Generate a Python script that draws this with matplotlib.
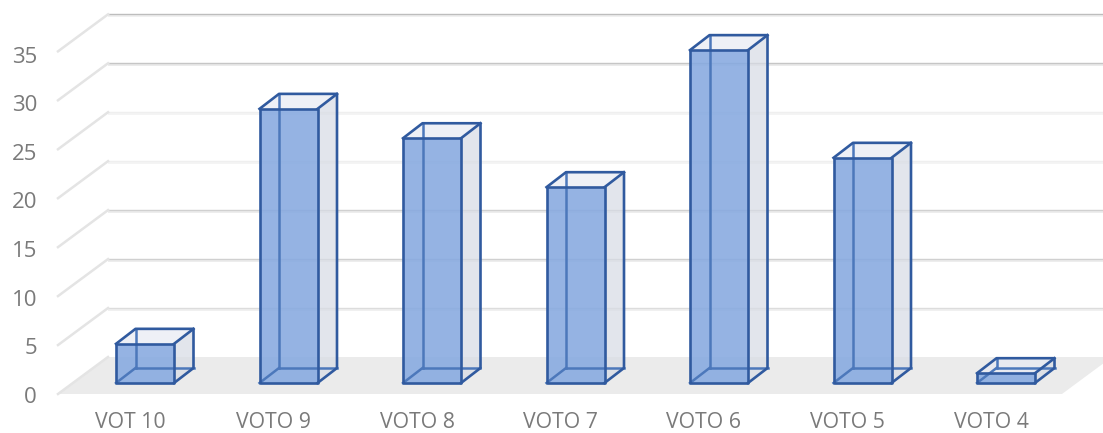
import matplotlib
matplotlib.use('Agg')
import matplotlib.pyplot as plt
import numpy as np
from matplotlib.patches import Polygon

plt.rcParams['font.family'] = ['Open Sans', 'DejaVu Sans']

# Data
categories = ['VOT 10', 'VOTO 9', 'VOTO 8', 'VOTO 7', 'VOTO 6', 'VOTO 5', 'VOTO 4']
votes = [4, 28, 25, 20, 34, 23, 1]
y_ticks = [0, 5, 10, 15, 20, 25, 30, 35]

# Look of the fake 3d chart
W, H = 1103, 433
x_unit = 143.5      # px per category
y_unit = 9.79       # px per vote
x_zero = 145.0      # px of the first bar centre
y_zero = 383.0      # px of value 0 on bar front
bar_w = 58 / x_unit
dep_x = 19.5 / x_unit
dep_y = 15.0 / y_unit
floor_front = -11 / y_unit
floor_back = 26 / y_unit
wall_dx = 50 / x_unit
left = (58 - x_zero) / x_unit
right = (1062 - x_zero) / x_unit
wall_end = (W - x_zero) / x_unit

edge = '#305a9f'
inner = '#4c78bb'
text_col = '#7a7a7a'
# the gridlines come out uneven in the original: (main line, shadow line)
grid_cols = {5: ('#dcdcdc', '#ececec'), 10: ('#d0d0d0', '#e8e8e8'), 15: ('#d0d0d0', '#e8e8e8'),
             20: ('#efefef', '#f1f1f1'), 25: ('#efefef', '#f1f1f1'), 30: ('#c6c6c6', '#e6e6e6'),
             35: ('#bdbdbd', '#ececec')}

fig = plt.figure(figsize=(W / 100, H / 100), dpi=100)
ax = fig.add_axes([0, 0, 1, 1])
ax.set_xlim(-x_zero / x_unit, (W - x_zero) / x_unit)
ax.set_ylim((y_zero - H) / y_unit, y_zero / y_unit)
ax.axis('off')

# Floor
ax.add_patch(Polygon([(left, floor_front), (right, floor_front),
                      (right + wall_dx, floor_back), (left + wall_dx, floor_back)],
                     fc='#ebebeb', ec='none', zorder=1))

# Gridlines, back wall and left wall
for t in y_ticks:
    yb = t + floor_back
    yf = t + floor_front
    if t > 0:
        main, shadow = grid_cols[t]
        ax.plot([left + wall_dx, wall_end], [yb, yb], color=main, lw=1.0, zorder=1.5,
                solid_capstyle='butt')
        ax.plot([left + wall_dx, wall_end], [yb - 0.15, yb - 0.15], color=shadow, lw=1.1, zorder=1.4,
                solid_capstyle='butt')
    ax.plot([left, left + wall_dx], [yf, yb], color='#e4e4e4', lw=1.8, zorder=1.5)
    # tick labels run on a slightly tighter step than the bars
    ax.text(37 / x_unit - x_zero / x_unit, t * 0.992 + floor_front - 0.33, str(t), ha='right', va='center',
            fontsize=16, color=text_col)

# Bars
for i, (name, v) in enumerate(zip(categories, votes)):
    x0 = i - 29 / x_unit
    x1 = x0 + bar_w
    # faces see-through so the floor and grid shine through
    side = [(x1, 0), (x1 + dep_x, dep_y), (x1 + dep_x, v + dep_y), (x1, v)]
    top = [(x0, v), (x1, v), (x1 + dep_x, v + dep_y), (x0 + dep_x, v + dep_y)]
    front = [(x0, 0), (x1, 0), (x1, v), (x0, v)]
    ax.add_patch(Polygon(side, fc='#d8dce5', alpha=0.72, ec='none', zorder=2))
    ax.add_patch(Polygon(top, fc='#e8eaf3', alpha=0.7, ec='none', zorder=2))
    ax.add_patch(Polygon(front, fc='#86a9e0', alpha=0.88, ec='none', zorder=3))
    # hidden back edges
    ax.plot([x0 + dep_x, x0 + dep_x], [dep_y, v + dep_y], color=inner, lw=1.8, zorder=3.5)
    ax.plot([x0 + dep_x, x1 + dep_x], [dep_y, dep_y], color=inner, lw=1.8, zorder=3.5)
    ax.plot([x0, x0 + dep_x], [0, dep_y], color=inner, lw=1.8, zorder=3.5)
    # outer edges
    ax.add_patch(Polygon(front, fc='none', ec=edge, lw=1.9, zorder=4, joinstyle='round'))
    ax.plot([x1, x1 + dep_x, x1 + dep_x, x0 + dep_x, x0], [0, dep_y, v + dep_y, v + dep_y, v],
            color=edge, lw=1.9, zorder=4, solid_joinstyle='round')
    ax.plot([x1, x1 + dep_x], [v, v + dep_y], color=edge, lw=1.9, zorder=4)
    ax.text(i - 15 / x_unit, -4.0, name, ha='center', va='center', fontsize=15.3, color=text_col)

fig.savefig('out.png', dpi=100)
